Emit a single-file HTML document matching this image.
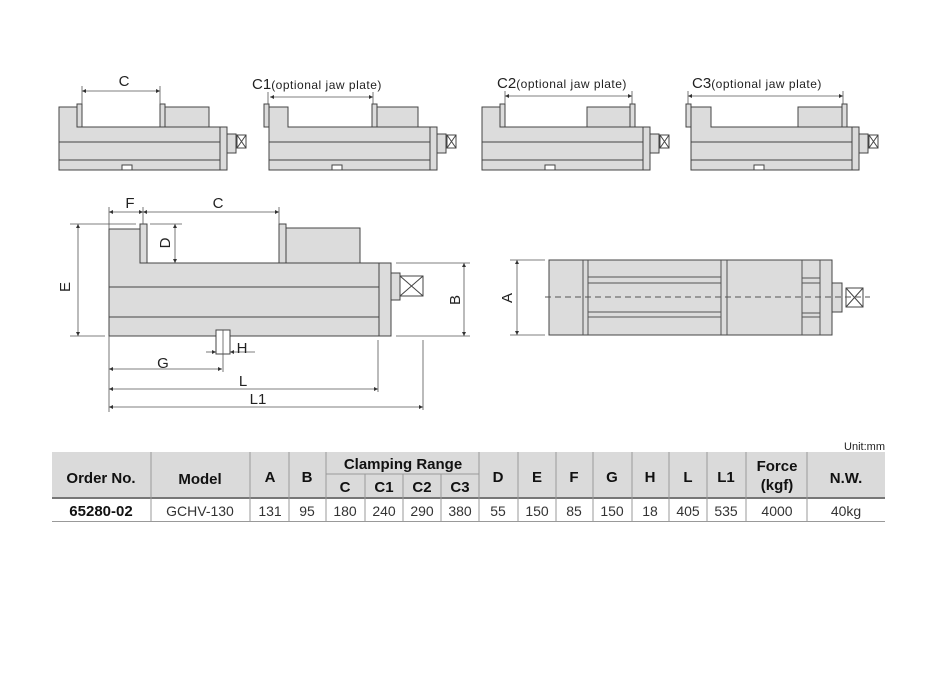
<!DOCTYPE html>
<html><head><meta charset="utf-8"><style>
body{margin:0;background:#fff;}
svg{display:block;font-family:"Liberation Sans",Arial,sans-serif;}
</style></head><body>
<svg width="927" height="677" viewBox="0 0 927 677" xmlns="http://www.w3.org/2000/svg">
<defs>
<marker id="a" viewBox="0 0 10 10" refX="10" refY="5" markerWidth="6" markerHeight="4" orient="auto-start-reverse" markerUnits="userSpaceOnUse"><path d="M0,0 L10,5 L0,10 Z" fill="#333"/></marker>
</defs>
<g fill="#dcdcdc" stroke="#444" stroke-width="1">
<!-- vise 1 -->
<path d="M59,107 L77,107 L77,127 L220,127 L220,170 L59,170 Z"/>
<rect x="77" y="104" width="5" height="23"/>
<rect x="160" y="104" width="5" height="23"/>
<rect x="165" y="107" width="44" height="20"/>
<rect x="220" y="127" width="7" height="43"/>
<rect x="227" y="134" width="9" height="19"/>
<rect x="237" y="135" width="9" height="13" fill="#fff"/>
<path d="M237,135 L246,148 M246,135 L237,148" fill="none"/>
<line x1="59" y1="142" x2="220" y2="142"/><line x1="59" y1="160" x2="220" y2="160"/>
<rect x="122" y="165" width="10" height="5" fill="#fff"/>
<!-- vise 2 -->
<path d="M269,107 L288,107 L288,127 L430,127 L430,170 L269,170 Z"/>
<rect x="264" y="104" width="5" height="23"/>
<rect x="372" y="104" width="5" height="23"/>
<rect x="377" y="107" width="41" height="20"/>
<rect x="430" y="127" width="7" height="43"/>
<rect x="437" y="134" width="9" height="19"/>
<rect x="447" y="135" width="9" height="13" fill="#fff"/>
<path d="M447,135 L456,148 M456,135 L447,148" fill="none"/>
<line x1="269" y1="142" x2="430" y2="142"/><line x1="269" y1="160" x2="430" y2="160"/>
<rect x="332" y="165" width="10" height="5" fill="#fff"/>
<!-- vise 3 -->
<path d="M482,107 L500,107 L500,127 L643,127 L643,170 L482,170 Z"/>
<rect x="500" y="104" width="5" height="23"/>
<rect x="587" y="107" width="43" height="20"/>
<rect x="630" y="104" width="5" height="23"/>
<rect x="643" y="127" width="7" height="43"/>
<rect x="650" y="134" width="9" height="19"/>
<rect x="660" y="135" width="9" height="13" fill="#fff"/>
<path d="M660,135 L669,148 M669,135 L660,148" fill="none"/>
<line x1="482" y1="142" x2="643" y2="142"/><line x1="482" y1="160" x2="643" y2="160"/>
<rect x="545" y="165" width="10" height="5" fill="#fff"/>
<!-- vise 4 -->
<path d="M691,107 L711,107 L711,127 L852,127 L852,170 L691,170 Z"/>
<rect x="686" y="104" width="5" height="23"/>
<rect x="798" y="107" width="44" height="20"/>
<rect x="842" y="104" width="5" height="23"/>
<rect x="852" y="127" width="7" height="43"/>
<rect x="859" y="134" width="9" height="19"/>
<rect x="869" y="135" width="9" height="13" fill="#fff"/>
<path d="M869,135 L878,148 M878,135 L869,148" fill="none"/>
<line x1="691" y1="142" x2="852" y2="142"/><line x1="691" y1="160" x2="852" y2="160"/>
<rect x="754" y="165" width="10" height="5" fill="#fff"/>

<!-- main side view -->
<path d="M109,229 L140,229 L140,263 L379,263 L379,336 L109,336 Z"/>
<rect x="140" y="224" width="7" height="39"/>
<rect x="279" y="224" width="7" height="39"/>
<rect x="286" y="228" width="74" height="35"/>
<rect x="379" y="263" width="12" height="73"/>
<rect x="391" y="273" width="9" height="27"/>
<rect x="400" y="276" width="23" height="20" fill="#fff"/>
<path d="M400,276 L423,296 M423,276 L400,296" fill="none"/>
<line x1="109" y1="287" x2="379" y2="287"/><line x1="109" y1="317" x2="379" y2="317"/>
<rect x="216" y="330" width="14" height="24" fill="#fff"/>

<!-- top view -->
<rect x="549" y="260" width="283" height="75"/>
<rect x="832" y="283" width="10" height="29"/>
<rect x="846" y="288" width="17" height="19" fill="#fff"/>
<path d="M846,288 L863,307 M863,288 L846,307" fill="none"/>
</g>
<g stroke="#555" stroke-width="1" fill="none">
<line x1="583" y1="260" x2="583" y2="335"/><line x1="588" y1="260" x2="588" y2="335"/>
<line x1="721" y1="260" x2="721" y2="335"/><line x1="727" y1="260" x2="727" y2="335"/>
<line x1="802" y1="260" x2="802" y2="335"/><line x1="820" y1="260" x2="820" y2="335"/>
<line x1="588" y1="277" x2="721" y2="277"/><line x1="588" y1="283" x2="721" y2="283"/>
<line x1="588" y1="312" x2="721" y2="312"/><line x1="588" y1="317" x2="721" y2="317"/>
<line x1="802" y1="278" x2="820" y2="278"/><line x1="802" y1="283" x2="820" y2="283"/>
<line x1="802" y1="313" x2="820" y2="313"/><line x1="802" y1="317" x2="820" y2="317"/>
<line x1="545" y1="297" x2="870" y2="297" stroke-dasharray="6,4"/>
</g>
<!-- dimensions -->
<g stroke="#555" stroke-width="0.8" fill="none">
<line x1="82" y1="91" x2="160" y2="91" marker-start="url(#a)" marker-end="url(#a)"/>
<line x1="82" y1="86" x2="82" y2="104"/><line x1="160" y1="86" x2="160" y2="104"/>
<line x1="270" y1="97" x2="373" y2="97" marker-start="url(#a)" marker-end="url(#a)"/>
<line x1="373" y1="92" x2="373" y2="104"/><line x1="268" y1="92" x2="268" y2="104"/>
<line x1="505" y1="96" x2="632" y2="96" marker-start="url(#a)" marker-end="url(#a)"/>
<line x1="505" y1="91" x2="505" y2="104"/><line x1="632" y1="91" x2="632" y2="104"/>
<line x1="688" y1="96" x2="843" y2="96" marker-start="url(#a)" marker-end="url(#a)"/>
<line x1="688" y1="91" x2="688" y2="104"/><line x1="843" y1="91" x2="843" y2="104"/>

<line x1="109" y1="212" x2="143" y2="212" marker-start="url(#a)" marker-end="url(#a)"/>
<line x1="143" y1="212" x2="279" y2="212" marker-start="url(#a)" marker-end="url(#a)"/>
<line x1="109" y1="207" x2="109" y2="229"/><line x1="143" y1="207" x2="143" y2="224"/><line x1="279" y1="207" x2="279" y2="224"/>
<line x1="78" y1="224" x2="78" y2="336" marker-start="url(#a)" marker-end="url(#a)"/>
<line x1="70" y1="224" x2="136" y2="224"/><line x1="70" y1="336" x2="105" y2="336"/>
<line x1="175" y1="224" x2="175" y2="263" marker-start="url(#a)" marker-end="url(#a)"/>
<line x1="150" y1="224" x2="182" y2="224"/>
<line x1="464" y1="263" x2="464" y2="336" marker-start="url(#a)" marker-end="url(#a)"/>
<line x1="396" y1="263" x2="470" y2="263"/><line x1="396" y1="336" x2="470" y2="336"/>
<line x1="223" y1="330" x2="223" y2="372"/>
<line x1="206" y1="352" x2="216" y2="352" marker-end="url(#a)"/>
<line x1="255" y1="352" x2="230" y2="352" marker-end="url(#a)"/>
<line x1="109" y1="369" x2="222" y2="369" marker-start="url(#a)" marker-end="url(#a)"/>
<line x1="109" y1="336" x2="109" y2="412"/>
<line x1="109" y1="389" x2="378" y2="389" marker-start="url(#a)" marker-end="url(#a)"/>
<line x1="378" y1="340" x2="378" y2="392"/>
<line x1="109" y1="407" x2="423" y2="407" marker-start="url(#a)" marker-end="url(#a)"/>
<line x1="423" y1="340" x2="423" y2="410"/>
<line x1="517" y1="260" x2="517" y2="335" marker-start="url(#a)" marker-end="url(#a)"/>
<line x1="510" y1="260" x2="545" y2="260"/><line x1="510" y1="335" x2="545" y2="335"/>
</g>
<g fill="#222" font-size="15">
<text x="124" y="86" text-anchor="middle">C</text>
<text x="252" y="89" font-size="15">C1<tspan font-size="12" letter-spacing="0.5">(optional jaw plate)</tspan></text>
<text x="497" y="88" font-size="15">C2<tspan font-size="12" letter-spacing="0.5">(optional jaw plate)</tspan></text>
<text x="692" y="88" font-size="15">C3<tspan font-size="12" letter-spacing="0.5">(optional jaw plate)</tspan></text>
<text x="130" y="208" text-anchor="middle">F</text>
<text x="218" y="208" text-anchor="middle">C</text>
<text x="163" y="368" text-anchor="middle">G</text>
<text x="243" y="386" text-anchor="middle">L</text>
<text x="258" y="404" text-anchor="middle">L1</text>
<text x="242" y="353" text-anchor="middle">H</text>
<text transform="translate(70,287) rotate(-90)" text-anchor="middle">E</text>
<text transform="translate(170,243) rotate(-90)" text-anchor="middle">D</text>
<text transform="translate(460,300) rotate(-90)" text-anchor="middle">B</text>
<text transform="translate(512,298) rotate(-90)" text-anchor="middle">A</text>
</g>
<!-- table -->
<text x="885" y="450" font-size="11" text-anchor="end" fill="#222">Unit:mm</text>
<rect x="52" y="452" width="833" height="45" fill="#dadada"/>
<rect x="52" y="497" width="833" height="2" fill="#777"/>
<line x1="52" y1="521.5" x2="885" y2="521.5" stroke="#999" stroke-width="1"/>
<g stroke="#999" stroke-width="1">
<line x1="151" y1="452" x2="151" y2="521"/><line x1="250" y1="452" x2="250" y2="521"/>
<line x1="289" y1="452" x2="289" y2="521"/><line x1="326" y1="452" x2="326" y2="521"/>
<line x1="365" y1="474" x2="365" y2="521"/><line x1="403" y1="474" x2="403" y2="521"/>
<line x1="441" y1="474" x2="441" y2="521"/><line x1="479" y1="452" x2="479" y2="521"/>
<line x1="518" y1="452" x2="518" y2="521"/><line x1="556" y1="452" x2="556" y2="521"/>
<line x1="593" y1="452" x2="593" y2="521"/><line x1="632" y1="452" x2="632" y2="521"/>
<line x1="669" y1="452" x2="669" y2="521"/><line x1="707" y1="452" x2="707" y2="521"/>
<line x1="746" y1="452" x2="746" y2="521"/><line x1="807" y1="452" x2="807" y2="521"/>
<line x1="326" y1="474" x2="479" y2="474"/>
</g>
<g font-size="15" font-weight="bold" fill="#111" text-anchor="middle">
<text x="101" y="483">Order No.</text>
<text x="200" y="484">Model</text>
<text x="270" y="482">A</text>
<text x="307" y="482">B</text>
<text x="403" y="469">Clamping Range</text>
<text x="345" y="492">C</text><text x="384" y="492">C1</text><text x="422" y="492">C2</text><text x="460" y="492">C3</text>
<text x="498" y="482">D</text><text x="537" y="482">E</text><text x="574" y="482">F</text>
<text x="612" y="482">G</text><text x="650" y="482">H</text><text x="688" y="482">L</text>
<text x="726" y="482">L1</text>
<text x="777" y="471">Force</text><text x="777" y="490">(kgf)</text>
<text x="846" y="483">N.W.</text>
<text x="101" y="516">65280-02</text>
</g>
<g font-size="14" fill="#333" text-anchor="middle">
<text x="200" y="516">GCHV-130</text>
<text x="270" y="516">131</text><text x="307" y="516">95</text>
<text x="345" y="516">180</text><text x="384" y="516">240</text><text x="422" y="516">290</text><text x="460" y="516">380</text>
<text x="498" y="516">55</text><text x="537" y="516">150</text><text x="574" y="516">85</text>
<text x="612" y="516">150</text><text x="650" y="516">18</text><text x="688" y="516">405</text>
<text x="726" y="516">535</text><text x="777" y="516">4000</text><text x="846" y="516">40kg</text>
</g>
</svg>
</body></html>
